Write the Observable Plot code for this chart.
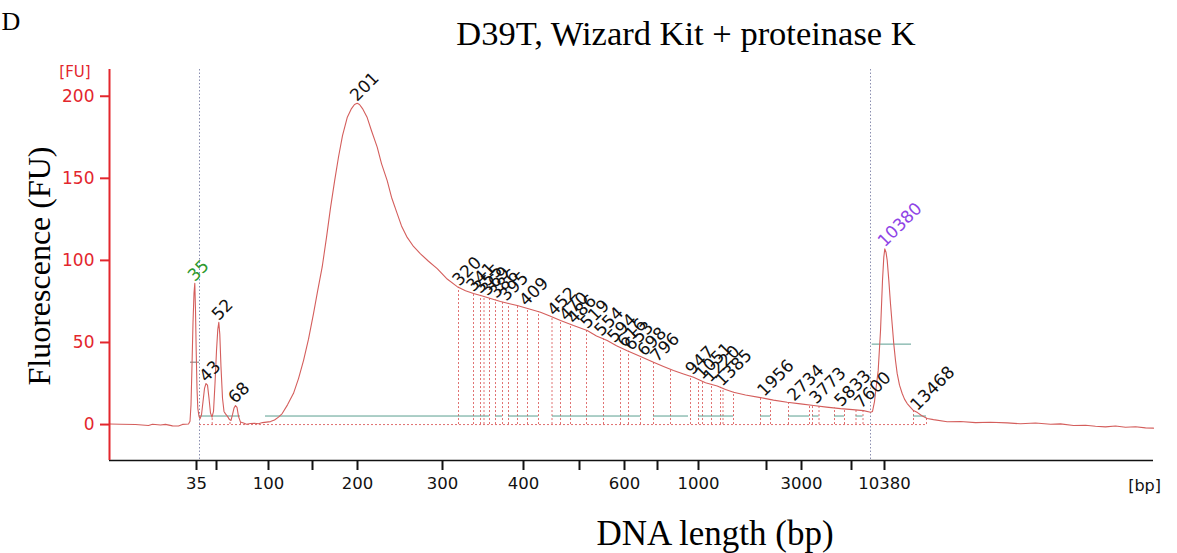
<!DOCTYPE html>
<html><head><meta charset="utf-8">
<script src="https://cdn.jsdelivr.net/npm/d3@7"></script>
<script src="https://cdn.jsdelivr.net/npm/@observablehq/plot@0.6"></script>
<style>
body{margin:0;background:#fff;}
#wrap{width:1177px;height:553px;overflow:hidden;}
</style></head><body>
<div id="wrap"></div>
<script>
// Electropherogram trace: migration time (s) and fluorescence (FU)
const traceTime = [20.0,21.1,22.6,23.9,24.3,25.1,25.6,26.3,26.9,27.3,27.9,28.05,28.15,28.25,28.35,28.45,28.53,28.6,28.67,28.75,28.83,28.95,29.05,29.2,29.35,29.5,29.65,29.8,29.95,30.1,30.25,30.4,30.55,30.7,30.83,30.93,31.03,31.15,31.3,31.45,31.6,31.8,32.0,32.15,32.3,32.45,32.6,32.75,32.9,33.1,33.4,33.7,34.1,34.5,34.9,35.3,35.7,36.1,36.5,36.9,37.27,37.8,38.4,38.9,39.4,39.9,40.4,40.8,41.27,41.7,42.1,42.5,42.9,43.3,43.77,44.2,44.5,44.77,45.0,45.3,45.77,46.2,46.77,47.2,47.77,48.2,48.77,49.2,49.77,50.4,51.1,51.9,52.77,53.7,54.77,55.6,56.4,57.2,58.1,59.1,59.9,60.77,61.9,63.1,64.1,65.1,66.4,67.77,68.7,69.77,70.7,71.77,73.1,74.4,75.4,76.4,77.4,78.4,79.6,80.77,81.6,82.4,83.6,85.1,86.4,87.77,89.1,90.4,91.7,93.1,94.3,95.4,96.1,96.3,96.5,96.65,96.87,97.1,97.3,97.43,97.53,97.65,97.77,97.93,98.1,98.27,98.43,98.6,98.77,99.0,99.27,99.5,99.77,100.1,100.4,100.8,101.2,101.77,102.4,103.77,105.1,106.6,108.1,109.77,111.1,112.6,114.1,115.1,116.4,117.6,118.6,119.6,120.6,121.6,122.6,123.6,124.4];
const traceFU = [0.3,0.2,0,-0.6,0.2,-0.3,0.1,-0.8,-0.9,0.1,0.3,2,12,36,62,80,86,70,45,22,10,5,3.5,6,14,22,25,24,16,7,4.5,8,25,45,58,62.3,55,35,16,8,6.5,5,3,2.5,6,10,11.6,10.5,5,1.5,1,0.2,0.6,0.8,0.5,1.2,1.5,1.8,2.8,4.5,6.7,12,19,28,39,52,67.6,81,96,114,132,148,163,176,187,192.5,195,195.7,195,192.5,187,179,169,159,148.6,138.5,128.5,121,114,108.5,104,99.5,95,89,84,81.5,79.8,78.5,76.8,75,73.8,72.5,70.5,68.4,66,63.4,60.3,57.3,54,51.2,48,45,41.5,38,35.4,32.9,30.8,28.8,25.5,23.5,21.4,19.7,18,16.4,14.9,13.6,12.6,11.6,10.6,9.7,9.1,8.5,7.5,8,14,22,33,57,87.7,102,107,105,100,88,73.6,61,49,39,31,24,18.9,15.5,12.8,10.5,8.5,7.3,5.5,3.7,3,1.7,1.9,1.2,1.4,1,0.5,0.9,0.2,0.4,-0.6,-0.4,-1.0,-1.4,-0.9,-1.6,-1.3,-2,-2.2];

// x axis ticks (migration time) and their size labels (bp)
const tickTimes  = [28.7, 30.7, 35.9, 40.3, 44.8, 53.3, 61.4, 67.0, 71.5, 74.8, 78.9, 85.7, 89.2, 94.2, 97.5];
const tickLabels = ["35", "", "100", "", "200", "300", "400", "", "600", "", "1000", "", "3000", "", "10380"];
const yTicks = [0, 50, 100, 150, 200];

// markers (lower 35 bp, upper 10380 bp)
const markerTimes = [29.0, 96.1];
const markerHalfStart = [28.1, 96.27];
const markerHalfEnd = [29.0, 100.2];
const markerHalfFU = [38, 49];

// peak / region boundaries
const regionBounds = [30.27, 32.05, 33.1, 54.9, 56.4, 57.1, 57.45, 58.0, 58.6, 59.3, 59.9, 60.8, 61.8, 62.9, 64.25, 65.1, 66.1, 67.7, 69.4, 71.1, 71.9, 73.1, 74.4, 76.1, 78.1, 78.9, 79.3, 80.2, 81.1, 81.35, 82.4, 85.1, 86.1, 87.9, 90.0, 90.3, 90.95, 92.5, 93.5, 94.65, 95.35, 100.4, 101.7];
const baselineSpan = [29.0, 101.7];
const regionBaseFU = 5.2;
const segStart = [29.0, 35.6, 58.6, 59.9, 64.3, 74.4, 78.9, 85.1, 87.9, 90.3, 92.5, 94.65, 100.4];
const segEnd   = [33.1, 58.0, 59.3, 62.9, 73.1, 77.9, 82.4, 86.1, 90.0, 90.95, 93.5, 95.35, 101.7];

// peak labels
const peakLabels = ["35","43","52","68","201","320","341","355","369","386","395","409","452","470","486","519","554","594","616","653","698","796","947","1051","1220","1385","1956","2734","3773","5833","7600","10380","13468"];
const peakTimes  = [28.53,29.7,30.93,32.6,44.77,55.0,56.4,57.1,57.8,58.7,59.7,61.7,64.5,65.7,66.5,67.8,69.2,70.5,71.5,72.2,73.5,74.8,78.3,79.3,80.1,81.3,85.5,88.5,90.7,93.2,95.2,97.53,100.8];
const peakKind   = peakLabels.map(l => l === "35" ? "lower" : l === "10380" ? "upper" : "peak");

const interp = t => {
  const i = d3.bisectRight(traceTime, t);
  if (i <= 0) return traceFU[0];
  if (i >= traceTime.length) return traceFU[traceFU.length - 1];
  const t0 = traceTime[i-1], t1 = traceTime[i];
  return traceFU[i-1] + (traceFU[i] - traceFU[i-1]) * (t - t0) / (t1 - t0);
};

const trace = traceTime.map((t, i) => ({t, fu: traceFU[i]}));
const segs = segStart.map((s, i) => ({x1: s, x2: segEnd[i]}));
const halves = markerHalfStart.map((s, i) => ({x1: s, x2: markerHalfEnd[i], y: markerHalfFU[i], c: i === 0 ? "#777" : "#5a9e90"}));
const labels = peakLabels.map((l, i) => ({l, t: peakTimes[i], k: peakKind[i]}));
const tickMap = new Map(tickTimes.map((t, i) => [t, tickLabels[i]]));
const labelColor = {lower: "#2f9a2f", upper: "#8f45e6", peak: "#111"};

const xDomain = [20, 124.4];
const yDomain = [-21.9, 216.3];
const red = "#e3262d";
const traceRed = "#d45e5c";

const chart = Plot.plot({
  width: 1177, height: 553,
  marginLeft: 109, marginRight: 24, marginTop: 69, marginBottom: 93,
  x: {domain: xDomain},
  y: {domain: yDomain},
  style: {fontFamily: "DejaVu Sans, Verdana, sans-serif", fontSize: "16.5px", background: "#fff"},
  marks: [
    Plot.ruleX(markerTimes, {stroke: "#8b8fb0", strokeDasharray: "1.5,2", strokeWidth: 1}),
    Plot.ruleY([0], {x1: baselineSpan[0], x2: baselineSpan[1], stroke: "#e07070", strokeDasharray: "2,2", strokeWidth: 1}),
    Plot.ruleX(regionBounds, {x: d => d, y1: 0, y2: d => interp(d), stroke: "#e07070", strokeDasharray: "2,2", strokeWidth: 1}),
    Plot.ruleY(segs, {y: regionBaseFU, x1: "x1", x2: "x2", stroke: "#5a9e90", strokeWidth: 1}),
    Plot.ruleY(halves, {y: "y", x1: "x1", x2: "x2", stroke: "c", strokeWidth: 1}),
    Plot.line(trace, {x: "t", y: "fu", stroke: traceRed, strokeWidth: 1.1}),
    Plot.text(labels, {x: "t", y: d => interp(d.t), text: "l", rotate: -45, textAnchor: "start", dx: -4, dy: -5, fill: d => labelColor[d.k], fontSize: 17}),
    Plot.ruleY([yDomain[0]], {stroke: "#111", strokeWidth: 1.6}),
    Plot.ruleX([xDomain[0]], {stroke: red, strokeWidth: 2}),
    Plot.axisX(tickTimes, {tickFormat: d => tickMap.get(d), tickSize: 10, tickPadding: 7, fontSize: 16.5, stroke: "#111", fill: "#111", strokeWidth: 2, label: null}),
    Plot.axisY(yTicks, {tickSize: 9, tickPadding: 6, fontSize: 17, stroke: red, fill: red, strokeWidth: 2, label: null})
  ]
});

document.getElementById("wrap").appendChild(chart);
const svg = d3.select(chart);
const serif = "'Liberation Serif', 'Times New Roman', serif";
svg.append("text").attr("x", 11).attr("y", 30).attr("font-family", serif).attr("font-size", 26).attr("fill", "#000").text("D");
svg.append("text").attr("x", 686).attr("y", 45).attr("text-anchor", "middle").attr("font-family", serif).attr("font-size", 34.5).attr("fill", "#000").text("D39T, Wizard Kit + proteinase K");
svg.append("text").attr("transform", "translate(50,266) rotate(-90)").attr("text-anchor", "middle").attr("font-family", serif).attr("font-size", 32).attr("fill", "#000").text("Fluorescence (FU)");
svg.append("text").attr("x", 715).attr("y", 545).attr("text-anchor", "middle").attr("font-family", serif).attr("font-size", 35).attr("fill", "#000").text("DNA length (bp)");
svg.append("text").attr("x", 75).attr("y", 77).attr("text-anchor", "middle").attr("font-family", "DejaVu Sans, sans-serif").attr("font-size", 15).attr("fill", red).text("[FU]");
svg.append("text").attr("x", 1161).attr("y", 491).attr("text-anchor", "end").attr("font-family", "DejaVu Sans, sans-serif").attr("font-size", 16).attr("fill", "#111").text("[bp]");
</script>
</body></html>
